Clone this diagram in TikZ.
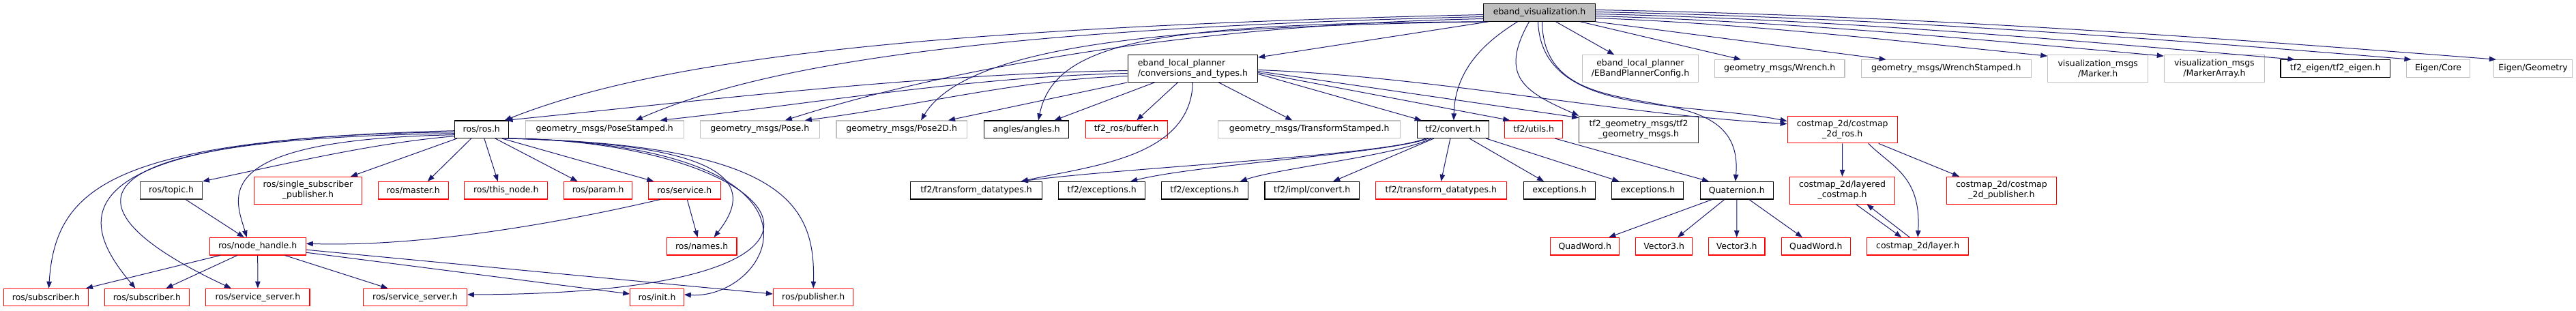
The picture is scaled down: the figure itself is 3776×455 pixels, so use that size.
\documentclass[tikz,border=0pt]{standalone}
\usepackage{fontspec}
\setmainfont{DejaVu Sans}
\usepackage{tikz}
\usetikzlibrary{arrows.meta}
\definecolor{edgeblue}{HTML}{191970}
\definecolor{docgray}{HTML}{BFBFBF}
\tikzset{
    file/.style={
        draw,
        rectangle,
        fill=white,
        line width=1.1pt,
        inner sep=2pt,
        minimum height=25.5pt,
        align=center,
        font=\fontsize{12.5}{15}\selectfont
    },
    redfile/.style={file, draw=red},
    grayfile/.style={file, draw=docgray},
    twoline/.style={minimum height=39.7pt},
    inc/.style={
        draw=edgeblue,
        line width=1pt,
        -{Triangle[length=10pt, width=7.5pt]}
    }
}

\begin{document}
\begin{tikzpicture}[x=1pt, y=1pt]
  \useasboundingbox (0,0) rectangle (3776,-455);

  % Top file
  \node[file, fill=docgray, minimum width=163.8pt] (vis) at (2256.5,-18.5) {eband\_visualization.h};

  % Second row
  \node[file, twoline, align=left, minimum width=190.6pt] (conv) at (1748.4,-100.5) {eband\_local\_planner\\/conversions\_and\_types.h};
  \node[grayfile, twoline, minimum width=169.7pt] (cfg) at (2404.5,-100.5) {eband\_local\_planner\\/EBandPlannerConfig.h};
  \node[grayfile, minimum width=190.6pt] (wrench) at (2608.7,-100.5) {geometry\_msgs/Wrench.h};
  \node[grayfile, minimum width=249.1pt] (wrenchst) at (2852.7,-100.5) {geometry\_msgs/WrenchStamped.h};
  \node[grayfile, twoline, minimum width=146.8pt] (marker) at (3075.2,-100.5) {visualization\_msgs\\/Marker.h};
  \node[grayfile, twoline, minimum width=147.2pt] (markerarr) at (3245.9,-100.5) {visualization\_msgs\\/MarkerArray.h};
  \node[file, minimum width=160.4pt] (tfeigen) at (3423.2,-100.5) {tf2\_eigen/tf2\_eigen.h};
  \node[grayfile, minimum width=92.2pt] (core) at (3574,-100.5) {Eigen/Core};
  \node[grayfile, minimum width=115.4pt] (geom) at (3713.1,-100.5) {Eigen/Geometry};

  % Third row
  \node[file, minimum width=78.6pt] (ros) at (705.8,-189.7) {ros/ros.h};
  \node[grayfile, minimum width=232.1pt] (posest) at (886.2,-189.7) {geometry\_msgs/PoseStamped.h};
  \node[grayfile, minimum width=175pt] (pose) at (1113.8,-189.7) {geometry\_msgs/Pose.h};
  \node[grayfile, minimum width=191.5pt] (pose2d) at (1321.7,-189.7) {geometry\_msgs/Pose2D.h};
  \node[file, minimum width=124.1pt] (angles) at (1504.5,-189.7) {angles/angles.h};
  \node[redfile, minimum width=120.1pt] (buffer) at (1651.2,-189.7) {tf2\_ros/buffer.h};
  \node[grayfile, minimum width=267pt] (tfst) at (1919.2,-189.7) {geometry\_msgs/TransformStamped.h};
  \node[file, minimum width=105.4pt] (convert) at (2129.9,-189.7) {tf2/convert.h};
  \node[redfile, minimum width=84.8pt] (utils) at (2248.2,-189.7) {tf2/utils.h};
  \node[file, draw=black!80, twoline, minimum width=174.6pt] (tfgm) at (2402,-190) {tf2\_geometry\_msgs/tf2\\\_geometry\_msgs.h};
  \node[redfile, twoline, minimum width=161.1pt] (cmros) at (2700.7,-190) {costmap\_2d/costmap\\\_2d\_ros.h};

  % Fourth row
  \node[file, draw=black!80, minimum width=90.6pt] (topic) at (251.1,-279.2) {ros/topic.h};
  \node[redfile, twoline, minimum width=158.1pt] (ssp) at (451.4,-279.2) {ros/single\_subscriber\\\_publisher.h};
  \node[redfile, minimum width=102.7pt] (master) at (605.8,-279.2) {ros/master.h};
  \node[redfile, minimum width=121.9pt] (thisnode) at (741.8,-279.2) {ros/this\_node.h};
  \node[redfile, minimum width=100.5pt] (param) at (876.6,-279.2) {ros/param.h};
  \node[redfile, minimum width=105.8pt] (service) at (1003.3,-279.2) {ros/service.h};
  \node[file, minimum width=192.4pt] (tdblack) at (1431,-279.2) {tf2/transform\_datatypes.h};
  \node[file, minimum width=126.8pt] (exca) at (1615.2,-279.2) {tf2/exceptions.h};
  \node[file, minimum width=126.3pt] (excb) at (1765.9,-279.2) {tf2/exceptions.h};
  \node[file, minimum width=138.4pt] (implconv) at (1923.2,-279.2) {tf2/impl/convert.h};
  \node[redfile, minimum width=191.5pt] (tdred) at (2112.3,-279.2) {tf2/transform\_datatypes.h};
  \node[file, minimum width=104.9pt] (exa) at (2286,-279.2) {exceptions.h};
  \node[file, minimum width=105pt] (exb) at (2415.4,-279.2) {exceptions.h};
  \node[file, minimum width=106.7pt] (quat) at (2545.8,-279.2) {Quaternion.h};
  \node[redfile, twoline, minimum width=154.5pt] (layered) at (2700.5,-279.2) {costmap\_2d/layered\\\_costmap.h};
  \node[redfile, twoline, minimum width=161.6pt] (cmpub) at (2933.9,-279.2) {costmap\_2d/costmap\\\_2d\_publisher.h};

  % Fifth row
  \node[redfile, minimum width=141.1pt] (nh) at (377.7,-361.2) {ros/node\_handle.h};
  \node[redfile, minimum width=102.7pt] (names) at (1028.6,-361.2) {ros/names.h};
  \node[redfile, minimum width=100.9pt] (qwa) at (2323.3,-361.2) {QuadWord.h};
  \node[redfile, minimum width=82.6pt] (veca) at (2439.1,-361.2) {Vector3.h};
  \node[redfile, minimum width=82.6pt] (vecb) at (2545.7,-361.2) {Vector3.h};
  \node[redfile, minimum width=101.3pt] (qwb) at (2661.9,-361.2) {QuadWord.h};
  \node[redfile, minimum width=149.1pt] (layer) at (2811.2,-361.2) {costmap\_2d/layer.h};

  % Bottom row
  \node[redfile, minimum width=124.1pt] (suba) at (67.5,-436) {ros/subscriber.h};
  \node[redfile, minimum width=123.6pt] (subb) at (215.4,-436) {ros/subscriber.h};
  \node[redfile, minimum width=152.2pt] (ssa) at (377.9,-436) {ros/service\_server.h};
  \node[redfile, minimum width=151.8pt] (ssb) at (608.5,-436) {ros/service\_server.h};
  \node[redfile, minimum width=78.5pt] (init) at (963,-436) {ros/init.h};
  \node[redfile, minimum width=117.4pt] (pub) at (1192.2,-436) {ros/publisher.h};

  % Includes of eband_visualization.h
  \draw[inc] ([yshift=-3pt]vis.west) .. controls +(-874,-20) and +(211,83) .. ([xshift=-6pt]ros.north east);
  \draw[inc] ([yshift=-6pt]vis.west) .. controls +(-774,-18) and +(169,74) .. ([xshift=-71pt]posest.north east);
  \draw[inc] ([yshift=-9pt]vis.west) .. controls +(-474,-10) and +(200,64) .. ([xshift=-51pt]pose.north east);
  \draw[inc] ([xshift=2pt]vis.south west) .. controls +(-426,-7) and +(71,117) .. ([xshift=-68pt]pose2d.north east);
  \draw[inc] ([xshift=4pt]vis.south west) .. controls +(-478,-2) and +(24,117) .. ([xshift=-45pt]angles.north east);
  \draw[inc] ([xshift=8pt]vis.south west) -- ([yshift=-4pt]conv.north east);
  \draw[inc] ([xshift=-32pt]vis.south) .. controls +(-40,-25) and +(2,80) .. ([xshift=1pt]convert.north);
  \draw[inc] ([xshift=-15pt]vis.south) .. controls +(-45,-80) and +(-80,35) .. (tfgm.north west);
  \draw[inc] ([xshift=-2pt]vis.south) .. controls +(5,-140) and +(-150,30) .. ([yshift=-8pt]cmros.north west);
  \draw[inc] ([xshift=4pt]vis.south) .. controls +(2,-179) and +(15,176) .. ([xshift=-2pt]quat.north);
  \draw[inc] ([xshift=24pt]vis.south) -- ([xshift=47pt]cfg.north west);
  \draw[inc] ([xshift=60pt]vis.south) -- ([xshift=39pt]wrench.north west);
  \draw[inc] (vis.south east) -- ([xshift=37pt]wrenchst.north west);
  \draw[inc] ([yshift=-8pt]vis.east) .. controls +(220,-8) and +(-220,22) .. ([yshift=-2pt]marker.north west);
  \draw[inc] ([yshift=-5pt]vis.east) .. controls +(280,-8) and +(-280,25) .. ([yshift=-2pt]markerarr.north west);
  \draw[inc] ([yshift=-2pt]vis.east) .. controls +(350,-8) and +(-350,30) .. ([xshift=21pt]tfeigen.north west);
  \draw[inc] ([yshift=1pt]vis.east) .. controls +(400,-8) and +(-400,33) .. ([xshift=7pt]core.north west);
  \draw[inc] ([yshift=4pt]vis.east) .. controls +(450,-8) and +(-450,35) .. ([xshift=4pt]geom.north west);

  % Includes of conversions_and_types.h
  \draw[inc] ([yshift=-3pt]conv.west) .. controls +(-300,-5) and +(300,30) .. ([xshift=-4pt]ros.north east);
  \draw[inc] ([yshift=-7pt]conv.west) .. controls +(-230,-5) and +(230,25) .. ([xshift=-35pt]posest.north east);
  \draw[inc] ([yshift=-11pt]conv.west) .. controls +(-160,-5) and +(160,20) .. ([xshift=-22pt]pose.north east);
  \draw[inc] (conv.south west) -- ([xshift=-28pt]pose2d.north east);
  \draw[inc] ([xshift=-56pt]conv.south) -- ([xshift=41pt]angles.north);
  \draw[inc] ([xshift=-22pt]conv.south) -- ([xshift=15pt]buffer.north);
  \draw[inc] (conv.south) .. controls +(-3,-110) and +(104,23) .. ([xshift=-31pt]tdblack.north east);
  \draw[inc] ([xshift=38pt]conv.south) -- ([xshift=-25pt]tfst.north);
  \draw[inc] ([yshift=-8pt]conv.east) -- ([xshift=7pt]convert.north west);
  \draw[inc] ([yshift=-6pt]conv.east) -- ([xshift=8pt]utils.north west);
  \draw[inc] ([yshift=-4pt]conv.east) -- ([yshift=-3pt]tfgm.north west);
  \draw[inc] ([yshift=-2pt]conv.east) .. controls +(260,-10) and +(-260,15) .. ([yshift=-12pt]cmros.north west);

  % Includes of ros/ros.h
  \draw[inc] ([yshift=-2pt]ros.west) .. controls +(-500,-13) and +(10,150) .. ([xshift=4pt]suba.north);
  \draw[inc] ([yshift=-4pt]ros.west) .. controls +(-606,-6) and +(-78,93) .. ([xshift=-17pt]subb.north);
  \draw[inc] ([yshift=-6pt]ros.west) .. controls +(-666,-9) and +(-189,88) .. ([xshift=-39pt]ssa.north);
  \draw[inc] ([yshift=-8pt]ros.west) .. controls +(-366,-7) and +(-17,58) .. ([xshift=-16pt]nh.north);
  \draw[inc] ([yshift=-10pt]ros.west) .. controls +(-120,-10) and +(120,25) .. (topic.north east);
  \draw[inc] ([xshift=4pt]ros.south west) -- ([xshift=-17pt]ssp.north east);
  \draw[inc] ([xshift=-15pt]ros.south) -- ([xshift=21pt]master.north);
  \draw[inc] ([xshift=4pt]ros.south) -- ([xshift=-12pt]thisnode.north);
  \draw[inc] ([xshift=20pt]ros.south) -- ([xshift=-30pt]param.north);
  \draw[inc] ([xshift=-10pt]ros.south east) -- ([xshift=-45pt]service.north);
  \draw[inc] ([xshift=-6pt]ros.south east) .. controls +(361,-8) and +(53,68) .. ([xshift=18pt]names.north);
  \draw[inc] ([xshift=-3pt]ros.south east) .. controls +(408,-3) and +(666,2) .. ([yshift=4pt]ssb.east);
  \draw[inc] (ros.south east) .. controls +(515,-10) and +(128,-8) .. ([yshift=4pt]init.east);
  \draw[inc] ([xshift=2pt]ros.south east) .. controls +(403,-10) and +(3,123) .. (pub.north);

  % Includes of ros/service.h and ros/topic.h
  \draw[inc] ([xshift=18pt]service.south west) .. controls +(-150,-35) and +(170,-5) .. ([yshift=4pt]nh.east);
  \draw[inc] ([xshift=4pt]service.south) -- ([xshift=-6pt]names.north);
  \draw[inc] ([xshift=21pt]topic.south) -- ([xshift=-20pt]nh.north);

  % Includes of ros/node_handle.h
  \draw[inc] ([xshift=16pt]nh.south west) -- ([xshift=-4pt]suba.north east);
  \draw[inc] ([xshift=-30pt]nh.south) -- ([xshift=28pt]subb.north);
  \draw[inc] (nh.south) -- (ssa.north);
  \draw[inc] ([xshift=40pt]nh.south) -- ([xshift=-40pt]ssb.north);
  \draw[inc] ([yshift=-9pt]nh.east) -- ([yshift=5pt]init.west);
  \draw[inc] ([yshift=-5pt]nh.east) -- ([yshift=5pt]pub.west);

  % Includes of tf2/convert.h and tf2/utils.h
  \draw[inc] ([xshift=-40pt]convert.south) .. controls +(-60,-25) and +(150,20) .. ([xshift=-31pt]tdblack.north east);
  \draw[inc] ([xshift=-36pt]convert.south) .. controls +(-60,-22) and +(100,25) .. ([xshift=42pt]exca.north);
  \draw[inc] ([xshift=-32pt]convert.south) .. controls +(-50,-25) and +(60,20) .. ([xshift=52pt]excb.north);
  \draw[inc] ([xshift=-28pt]convert.south) -- ([xshift=31pt]implconv.north);
  \draw[inc] ([xshift=-4pt]convert.south) -- (tdred.north);
  \draw[inc] ([xshift=24pt]convert.south) -- ([xshift=-23pt]exa.north);
  \draw[inc] ([xshift=-5pt]convert.south east) -- ([xshift=11pt]exb.north west);
  \draw[inc] ([xshift=-12pt]utils.south east) -- ([xshift=13pt]quat.north west);

  % Includes of Quaternion.h
  \draw[inc] ([xshift=-36pt]quat.south) -- ([xshift=35pt]qwa.north);
  \draw[inc] ([xshift=-18pt]quat.south) -- ([xshift=20pt]veca.north);
  \draw[inc] (quat.south) -- (vecb.north);
  \draw[inc] ([xshift=18pt]quat.south) -- ([xshift=-20pt]qwb.north);

  % Includes of the costmap files
  \draw[inc] (cmros.south) -- (layered.north);
  \draw[inc] ([xshift=38pt]cmros.south) .. controls +(35,-35) and +(5,90) .. (layer.north);
  \draw[inc] ([xshift=53pt]cmros.south) -- ([xshift=-62pt]cmpub.north);
  \draw[inc] ([xshift=20pt]layered.south) -- ([xshift=-24pt]layer.north);
  \draw[inc] ([xshift=-12pt]layer.north) -- ([xshift=36pt]layered.south);
\end{tikzpicture}
\end{document}
